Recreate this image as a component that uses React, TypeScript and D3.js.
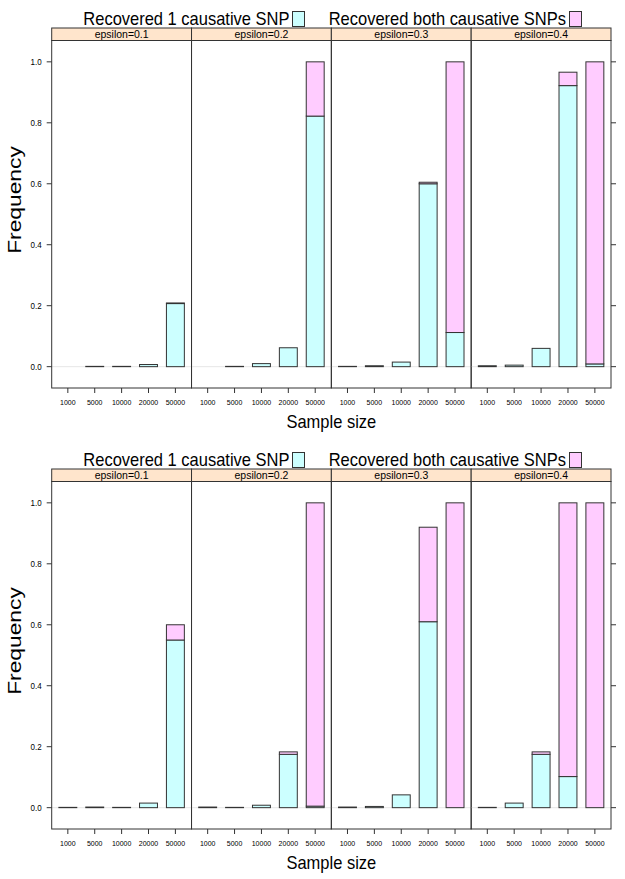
import React from "react";
import * as d3 from "d3";

const sampleSizes = ["1000", "5000", "10000", "20000", "50000"];
const epsilons = ["epsilon=0.1", "epsilon=0.2", "epsilon=0.3", "epsilon=0.4"];
const yTicks = [0, 0.2, 0.4, 0.6, 0.8, 1.0];
const legendLabels = ["Recovered 1 causative SNP", "Recovered both causative SNPs"];

// Top chart: frequency of recovering exactly one / both causative SNPs
const topOne = [
  [0, 0.001, 0.001, 0.007, 0.207],
  [0, 0.001, 0.01, 0.062, 0.822],
  [0.001, 0.003, 0.015, 0.6, 0.112],
  [0.003, 0.005, 0.06, 0.922, 0.009],
];
const topBoth = [
  [0, 0, 0, 0, 0.002],
  [0, 0, 0, 0, 0.178],
  [0, 0, 0, 0.005, 0.888],
  [0, 0, 0, 0.044, 0.991],
];
// Bottom chart
const botOne = [
  [0.001, 0.002, 0.001, 0.015, 0.55],
  [0.002, 0.001, 0.008, 0.175, 0.005],
  [0.002, 0.004, 0.042, 0.61, 0],
  [0.001, 0.015, 0.175, 0.102, 0],
];
const botBoth = [
  [0, 0, 0, 0, 0.05],
  [0, 0, 0, 0.008, 0.995],
  [0, 0, 0, 0.31, 1.0],
  [0, 0, 0.008, 0.898, 1.0],
];

const COL_ONE = "#CCFFFF";
const COL_BOTH = "#FFCCFF";
const STRIP = "#FFE5CC";
const LINE = "#333333";
const FONT = "'Liberation Sans', Arial, Helvetica, sans-serif";

const PL = 51.7;
const PR = 611;
const STRIP_TOP = 28;
const STRIP_H = 12.5;
const PANEL_BOTTOM = 388;
const SY = 1.15; // vertical stretch of the reference picture

function T({ x, y, size, anchor, children, sy = SY }: any) {
  return (
    <text transform={`translate(${x},${y}) scale(1,${sy})`} fontSize={size} textAnchor={anchor} fill="#000">
      {children}
    </text>
  );
}

function Chart({ oy, one, both }: { oy: number; one: number[][]; both: number[][] }) {
  const panelTop = STRIP_TOP + STRIP_H;
  const y = d3.scaleLinear().domain([-0.07, 1.07]).range([PANEL_BOTTOM, panelTop]);
  const panelX = d3.scaleBand().domain(epsilons).range([PL, PR]).padding(0);
  const pw = panelX.bandwidth();
  const unit = pw / 5.2;
  const bw = unit * (2 / 3);

  return (
    <g transform={`translate(0,${oy})`} fontFamily={FONT}>
      {/* legend */}
      <T x={289.5} y={24.5} size={16.5} anchor="end">{legendLabels[0]}</T>
      <rect x={292.5} y={11.5} width={12} height={15} fill={COL_ONE} stroke={LINE} strokeWidth={1} />
      <T x={566} y={24.5} size={16.5} anchor="end">{legendLabels[1]}</T>
      <rect x={569.5} y={11.5} width={12} height={15} fill={COL_BOTH} stroke={LINE} strokeWidth={1} />

      {epsilons.map((eps, pi) => {
        const x0 = panelX(eps)!;
        const x = d3.scalePoint().domain(sampleSizes).range([x0, x0 + pw]).padding(0.6);
        return (
          <g key={eps}>
            {/* strip */}
            <rect x={x0} y={STRIP_TOP} width={pw} height={STRIP_H} fill={STRIP} stroke={LINE} strokeWidth={1} />
            <T x={x0 + pw / 2} y={STRIP_TOP + STRIP_H / 2 + 4} size={10.5} anchor="middle" sy={1.05}>{eps}</T>
            {/* reference line */}
            <line x1={x0} x2={x0 + pw} y1={y(0)} y2={y(0)} stroke="#E6E6E6" strokeWidth={1} />
            {/* bars */}
            {sampleSizes.map((s, i) => {
              const cx = x(s)!;
              const a = one[pi][i];
              const b = both[pi][i];
              return (
                <g key={s}>
                  {a > 0 && (
                    <rect x={cx - bw / 2} y={y(a)} width={bw} height={y(0) - y(a)} fill={COL_ONE} stroke={LINE} strokeWidth={1} />
                  )}
                  {b > 0 && (
                    <rect x={cx - bw / 2} y={y(a + b)} width={bw} height={y(a) - y(a + b)} fill={COL_BOTH} stroke={LINE} strokeWidth={1} />
                  )}
                </g>
              );
            })}
            {/* panel border */}
            <rect x={x0} y={panelTop} width={pw} height={PANEL_BOTTOM - panelTop} fill="none" stroke={LINE} strokeWidth={1} />
            {/* x ticks */}
            {sampleSizes.map((s) => (
              <g key={"t" + s}>
                <line x1={x(s)} x2={x(s)} y1={PANEL_BOTTOM} y2={PANEL_BOTTOM + 5} stroke={LINE} strokeWidth={1} />
                <T x={x(s)} y={PANEL_BOTTOM + 16.5} size={7} anchor="middle">{s}</T>
              </g>
            ))}
          </g>
        );
      })}
      {/* y axis */}
      {yTicks.map((t) => (
        <g key={"y" + t}>
          <line x1={PL - 5} x2={PL} y1={y(t)} y2={y(t)} stroke={LINE} strokeWidth={1} />
          <line x1={PR} x2={PR + 5} y1={y(t)} y2={y(t)} stroke={LINE} strokeWidth={1} />
          <T x={PL - 10} y={y(t) + 3} size={8} anchor="end">{d3.format(".1f")(t)}</T>
        </g>
      ))}
      <text transform={`translate(21,200) rotate(-90) scale(1.2,1)`} fontSize={19} textAnchor="middle" fill="#000">Frequency</text>
      <T x={(PL + PR) / 2} y={PANEL_BOTTOM + 40} size={16.5} anchor="middle">Sample size</T>
    </g>
  );
}

export default function App() {
  return (
    <svg width={625} height={879} style={{ position: "absolute", left: 0, top: 0, background: "#fff" }}>
      <rect width={625} height={879} fill="#fff" />
      <Chart oy={0} one={topOne} both={topBoth} />
      <Chart oy={441} one={botOne} both={botBoth} />
    </svg>
  );
}
